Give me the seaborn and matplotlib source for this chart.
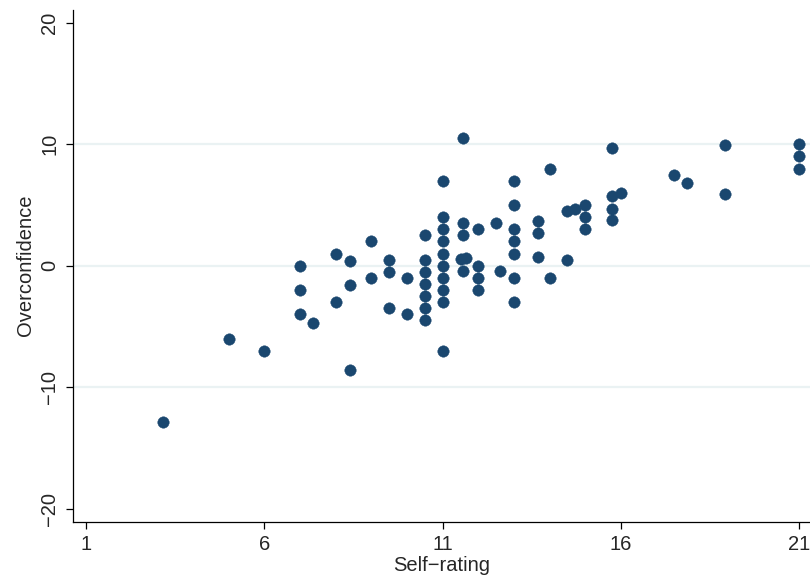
import matplotlib
matplotlib.use("Agg")
import matplotlib.pyplot as plt
import seaborn as sns
import pandas as pd

# Self-rating (x) and Overconfidence (y)
self_rating = [
    3.16, 5, 6,
    7, 7, 7, 7.36,
    8, 8, 8.4, 8.4, 8.4,
    9, 9,
    9.5, 9.5, 9.5,
    10, 10,
    10.5, 10.5, 10.5, 10.5, 10.5, 10.5, 10.5,
    11, 11, 11, 11, 11, 11, 11, 11, 11, 11,
    11.56, 11.56, 11.56, 11.56, 11.5, 11.65,
    12, 12, 12, 12,
    12.5, 12.62,
    13, 13, 13, 13, 13, 13, 13,
    13.67, 13.67, 13.67,
    14, 14,
    14.5, 14.5, 14.72,
    15, 15, 15,
    15.76, 15.76, 15.76, 15.76,
    16,
    17.5, 17.86,
    18.92, 18.92,
    21, 21, 21,
]
overconfidence = [
    -12.9, -6, -7,
    0, -2, -4, -4.7,
    1, -3, 0.4, -1.6, -8.6,
    2, -1,
    0.5, -0.5, -3.5,
    -1, -4,
    2.5, 0.5, -0.5, -1.5, -2.5, -3.5, -4.5,
    7, 4, 3, 2, 1, 0, -1, -2, -3, -7,
    10.5, 3.5, 2.5, -0.45, 0.55, 0.6,
    3, 0, -1, -2,
    3.5, -0.4,
    7, 5, 3, 2, 1, -1, -3,
    3.7, 2.7, 0.7,
    8, -1,
    4.5, 0.5, 4.67,
    5, 4, 3,
    9.7, 5.7, 4.7, 3.8,
    6,
    7.5, 6.85,
    9.9, 5.9,
    10, 9, 8,
]
x_ticks = [1, 6, 11, 16, 21]
y_ticks = [-20, -10, 0, 10, 20]
x_label = "Self\u2212rating"
y_label = "Overconfidence"

df = pd.DataFrame({"x": self_rating, "y": overconfidence})

sns.set_style("white")
plt.rcParams["font.family"] = ["Liberation Sans Narrow", "Liberation Sans", "DejaVu Sans"]
plt.rcParams["font.size"] = 14.5

fig = plt.figure(figsize=(8.10, 5.78), dpi=100)
ax = fig.add_axes([72.5 / 810, (578 - 521.5) / 578, (810 - 72.5) / 810, (521.5 - 10) / 578])

navy = "#1a476f"
grid_col = "#eaf2f3"

for gy in [-10, 0, 10]:
    ax.axhline(gy, color=grid_col, lw=1.6, zorder=0)

sns.scatterplot(data=df, x="x", y="y", ax=ax, color=navy, s=68,
                edgecolor=navy, linewidth=0.3, zorder=3, legend=False)

ax.set_xlim(0.62, 21.3)
ax.set_ylim(-21.05, 21.05)
ax.set_xticks(x_ticks)
ax.set_yticks(y_ticks)
ax.set_xticklabels([str(v) for v in x_ticks], fontsize=14.5)
ax.set_yticklabels([str(v).replace("-", "\u2212") for v in y_ticks], fontsize=14.5,
                   rotation=90, va="center")
ax.set_xlabel(x_label, fontsize=14.5, labelpad=2)
ax.set_ylabel(y_label, fontsize=14.5, labelpad=4)

for side in ["top", "right"]:
    ax.spines[side].set_visible(False)
for side in ["left", "bottom"]:
    ax.spines[side].set_color("#000000")
    ax.spines[side].set_linewidth(0.9)
ax.tick_params(axis="both", direction="out", length=5, width=0.9, color="black",
               pad=4.5, left=True, bottom=True)
ax.set_facecolor("white")
fig.patch.set_facecolor("white")

fig.savefig("out.png", dpi=100, facecolor="white")
